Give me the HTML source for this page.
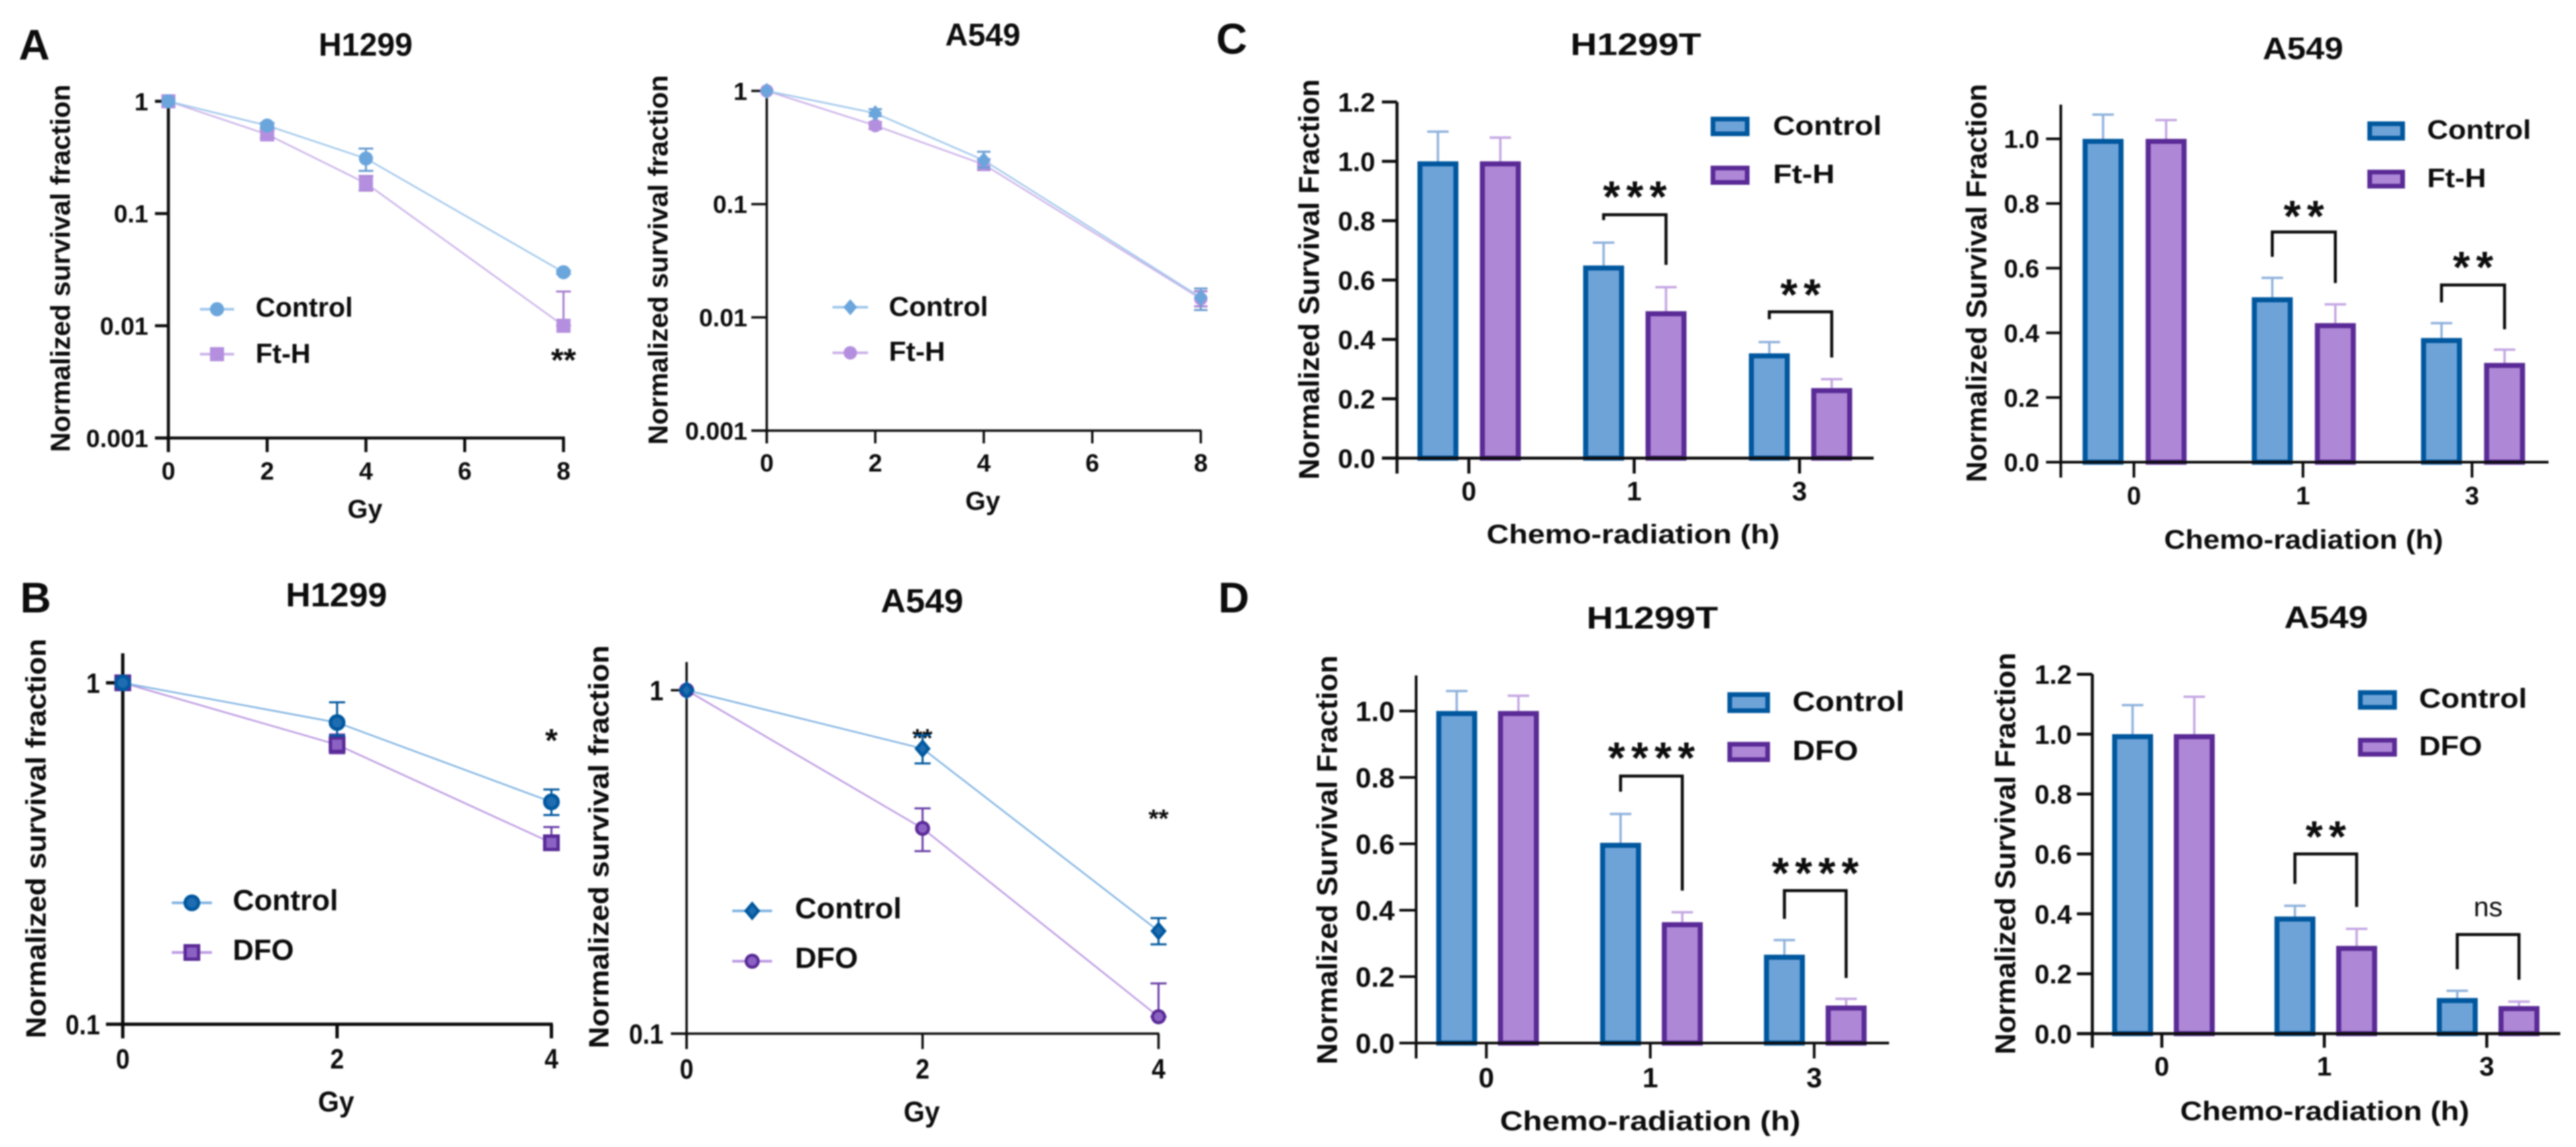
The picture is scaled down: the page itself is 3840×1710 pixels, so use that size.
<!DOCTYPE html>
<html lang="en">
<head>
<meta charset="utf-8">
<title>Normalized survival fraction panels</title>
<style>
html,body{margin:0;padding:0;background:#fff;width:3840px;height:1710px;overflow:hidden}
#figure{display:block;filter:blur(1.1px)}
.t{font-family:"Liberation Sans",Arial,sans-serif;font-weight:bold;fill:#0c0c0c}
.n{font-family:"Liberation Sans",Arial,sans-serif;font-weight:normal;fill:#0c0c0c}
</style>
</head>
<body>
<svg id="figure" xmlns="http://www.w3.org/2000/svg" width="3840" height="1710" viewBox="0 0 3840 1710">
<rect width="3840" height="1710" fill="#fff"/>

<text class="t" x="28" y="89" font-size="64">A</text>
<text class="t" x="30" y="913" font-size="64">B</text>
<text class="t" x="1813" y="80" font-size="64">C</text>
<text class="t" x="1816" y="913" font-size="64">D</text>

<g id="a1">
<text class="t" x="475" y="83" font-size="48" textLength="140" lengthAdjust="spacingAndGlyphs">H1299</text>
<text class="t" transform="translate(104 674) rotate(-90)" font-size="41" textLength="548" lengthAdjust="spacingAndGlyphs">Normalized survival fraction</text>
<text class="t" x="518" y="772" font-size="39" textLength="52" lengthAdjust="spacingAndGlyphs">Gy</text>
<text class="t" x="381" y="472" font-size="41" textLength="145" lengthAdjust="spacingAndGlyphs">Control</text>
<text class="t" x="381" y="541" font-size="41" textLength="82" lengthAdjust="spacingAndGlyphs">Ft-H</text>
<text class="t" x="840" y="553" font-size="48" text-anchor="middle">**</text>
</g>

<g id="a2">
<text class="t" x="1409" y="68" font-size="47" textLength="112" lengthAdjust="spacingAndGlyphs">A549</text>
<text class="t" transform="translate(995 663) rotate(-90)" font-size="41" textLength="551" lengthAdjust="spacingAndGlyphs">Normalized survival fraction</text>
<text class="t" x="1439" y="760" font-size="39" textLength="52" lengthAdjust="spacingAndGlyphs">Gy</text>
<text class="t" x="1325" y="471" font-size="41" textLength="148" lengthAdjust="spacingAndGlyphs">Control</text>
<text class="t" x="1325" y="538" font-size="41" textLength="84" lengthAdjust="spacingAndGlyphs">Ft-H</text>
</g>

<g id="b1">
<text class="t" x="426" y="904" font-size="50" textLength="151" lengthAdjust="spacingAndGlyphs">H1299</text>
<text class="t" transform="translate(68 1548) rotate(-90)" font-size="42" textLength="596" lengthAdjust="spacingAndGlyphs">Normalized survival fraction</text>
<text class="t" x="474" y="1657" font-size="43" textLength="54" lengthAdjust="spacingAndGlyphs">Gy</text>
<text class="t" x="347" y="1357" font-size="44" textLength="157" lengthAdjust="spacingAndGlyphs">Control</text>
<text class="t" x="347" y="1431" font-size="44" textLength="91" lengthAdjust="spacingAndGlyphs">DFO</text>
<text class="t" x="822" y="1120" font-size="48" text-anchor="middle">*</text>
</g>

<g id="b2">
<text class="t" x="1313" y="913" font-size="50" textLength="123" lengthAdjust="spacingAndGlyphs">A549</text>
<text class="t" transform="translate(907 1563) rotate(-90)" font-size="42" textLength="601" lengthAdjust="spacingAndGlyphs">Normalized survival fraction</text>
<text class="t" x="1347" y="1672" font-size="43" textLength="54" lengthAdjust="spacingAndGlyphs">Gy</text>
<text class="t" x="1185" y="1369" font-size="44" textLength="159" lengthAdjust="spacingAndGlyphs">Control</text>
<text class="t" x="1185" y="1443" font-size="44" textLength="94" lengthAdjust="spacingAndGlyphs">DFO</text>
<text class="t" x="1375" y="1113" font-size="38" text-anchor="middle" textLength="30" lengthAdjust="spacingAndGlyphs">**</text>
<text class="t" x="1727" y="1233" font-size="38" text-anchor="middle" textLength="30" lengthAdjust="spacingAndGlyphs">**</text>
</g>

<g id="c1">
<text class="t" x="2341" y="82" font-size="46" textLength="195" lengthAdjust="spacingAndGlyphs">H1299T</text>
<text class="t" transform="translate(1966 715) rotate(-90)" font-size="43" textLength="597" lengthAdjust="spacingAndGlyphs">Normalized Survival Fraction</text>
<text class="t" x="2216" y="810" font-size="40" textLength="437" lengthAdjust="spacingAndGlyphs">Chemo-radiation (h)</text>
<text class="t" x="2643" y="201" font-size="40" textLength="162" lengthAdjust="spacingAndGlyphs">Control</text>
<text class="t" x="2643" y="273" font-size="40" textLength="92" lengthAdjust="spacingAndGlyphs">Ft-H</text>
<rect x="2553.5" y="177.5" width="51" height="22" fill="#6ea3d8" stroke="#00579e" stroke-width="7"/>
<rect x="2553.5" y="250.5" width="51" height="21.5" fill="#ae88d6" stroke="#5a2a96" stroke-width="7"/>
</g>

<g id="c2">
<text class="t" x="3373" y="88" font-size="46" textLength="120" lengthAdjust="spacingAndGlyphs">A549</text>
<text class="t" transform="translate(2961 719) rotate(-90)" font-size="43" textLength="594" lengthAdjust="spacingAndGlyphs">Normalized Survival Fraction</text>
<text class="t" x="3226" y="818" font-size="40" textLength="416" lengthAdjust="spacingAndGlyphs">Chemo-radiation (h)</text>
<text class="t" x="3618" y="207" font-size="40" textLength="155" lengthAdjust="spacingAndGlyphs">Control</text>
<text class="t" x="3618" y="279" font-size="40" textLength="88" lengthAdjust="spacingAndGlyphs">Ft-H</text>
<rect x="3532.5" y="184.5" width="49" height="21.5" fill="#6ea3d8" stroke="#00579e" stroke-width="7"/>
<rect x="3532.5" y="256.5" width="49" height="21" fill="#ae88d6" stroke="#5a2a96" stroke-width="7"/>
</g>

<g id="d1">
<text class="t" x="2365" y="937" font-size="46" textLength="196" lengthAdjust="spacingAndGlyphs">H1299T</text>
<text class="t" transform="translate(1993 1587) rotate(-90)" font-size="43" textLength="610" lengthAdjust="spacingAndGlyphs">Normalized Survival Fraction</text>
<text class="t" x="2236" y="1685" font-size="41" textLength="448" lengthAdjust="spacingAndGlyphs">Chemo-radiation (h)</text>
<text class="t" x="2672" y="1060" font-size="42" textLength="167" lengthAdjust="spacingAndGlyphs">Control</text>
<text class="t" x="2672" y="1133" font-size="42" textLength="98" lengthAdjust="spacingAndGlyphs">DFO</text>
<rect x="2578.5" y="1035.5" width="56.5" height="24" fill="#6ea3d8" stroke="#00579e" stroke-width="7"/>
<rect x="2578.5" y="1109.5" width="56.5" height="23" fill="#ae88d6" stroke="#5a2a96" stroke-width="7"/>
</g>

<g id="d2">
<text class="t" x="3405" y="936" font-size="46" textLength="125" lengthAdjust="spacingAndGlyphs">A549</text>
<text class="t" transform="translate(3004 1572) rotate(-90)" font-size="43" textLength="599" lengthAdjust="spacingAndGlyphs">Normalized Survival Fraction</text>
<text class="t" x="3250" y="1670" font-size="40" textLength="431" lengthAdjust="spacingAndGlyphs">Chemo-radiation (h)</text>
<text class="t" x="3606" y="1055" font-size="41" textLength="161" lengthAdjust="spacingAndGlyphs">Control</text>
<text class="t" x="3606" y="1126" font-size="41" textLength="94" lengthAdjust="spacingAndGlyphs">DFO</text>
<rect x="3518.5" y="1032.5" width="51" height="22" fill="#6ea3d8" stroke="#00579e" stroke-width="7"/>
<rect x="3518.5" y="1103.5" width="51" height="21" fill="#ae88d6" stroke="#5a2a96" stroke-width="7"/>
</g>
</svg>

<script>
/* ---------- Panel A, H1299 ---------- */
const a1Doses = [0, 2, 4, 8];
const a1Control = [1, 0.608, 0.309, 0.03];
const a1ControlHi = [1, 0.64, 0.379, 0.031];
const a1ControlLo = [1, 0.58, 0.24, 0.029];
const a1FtH = [1, 0.507, 0.186, 0.01];
const a1FtHHi = [1, 0.55, 0.216, 0.0202];
const a1FtHLo = [1, 0.47, 0.16, 0.01];
const a1XTicks = [0, 2, 4, 6, 8];
const a1YTicks = [1, 0.1, 0.01, 0.001];
const a1YLabels = ['1', '0.1', '0.01', '0.001'];

/* ---------- Panel A, A549 ---------- */
const a2Doses = [0, 2, 4, 8];
const a2Control = [1, 0.635, 0.244, 0.015];
const a2ControlHi = [1, 0.69, 0.29, 0.018];
const a2ControlLo = [1, 0.6, 0.21, 0.0116];
const a2FtH = [1, 0.494, 0.224, 0.0146];
const a2FtHHi = [1, 0.53, 0.25, 0.017];
const a2FtHLo = [1, 0.46, 0.2, 0.0125];
const a2XTicks = [0, 2, 4, 6, 8];
const a2YTicks = [1, 0.1, 0.01, 0.001];
const a2YLabels = ['1', '0.1', '0.01', '0.001'];

/* ---------- Panel B, H1299 ---------- */
const b1Doses = [0, 2, 4];
const b1Control = [1, 0.765, 0.448];
const b1ControlHi = [1, 0.877, 0.487];
const b1ControlLo = [1, 0.7, 0.41];
const b1Dfo = [1, 0.659, 0.34];
const b1DfoHi = [1, 0.706, 0.378];
const b1DfoLo = [1, 0.622, 0.34];
const b1XTicks = [0, 2, 4];
const b1YTicks = [1, 0.1];
const b1YLabels = ['1', '0.1'];

/* ---------- Panel B, A549 ---------- */
const b2Doses = [0, 2, 4];
const b2Control = [1, 0.676, 0.199];
const b2ControlHi = [1, 0.74, 0.217];
const b2ControlLo = [1, 0.612, 0.182];
const b2Dfo = [1, 0.396, 0.112];
const b2DfoHi = [1, 0.453, 0.14];
const b2DfoLo = [1, 0.34, 0.112];
const b2XTicks = [0, 2, 4];
const b2YTicks = [1, 0.1];
const b2YLabels = ['1', '0.1'];

/* ---------- Panel C, H1299T ---------- */
const c1Categories = ['0', '1', '3'];
const c1Control = [1, 0.649, 0.353];
const c1ControlErr = [1.1, 0.726, 0.391];
const c1FtH = [1, 0.495, 0.236];
const c1FtHErr = [1.08, 0.576, 0.266];
const c1YTicks = [0, 0.2, 0.4, 0.6, 0.8, 1.0, 1.2];
const c1YLabels = ['0.0', '0.2', '0.4', '0.6', '0.8', '1.0', '1.2'];
const c1Sig = ['', '***', '**'];
const c1SigAt = [0, 0.902, 0.572];
const c1BracketLeft = [0, 0.802, 0.468];
const c1BracketTop = [0, 0.82, 0.493];
const c1BracketRight = [0, 0.651, 0.339];

/* ---------- Panel C, A549 ---------- */
const c2Categories = ['0', '1', '3'];
const c2Control = [1, 0.51, 0.384];
const c2ControlErr = [1.075, 0.57, 0.43];
const c2FtH = [1, 0.43, 0.307];
const c2FtHErr = [1.058, 0.488, 0.348];
const c2YTicks = [0, 0.2, 0.4, 0.6, 0.8, 1.0];
const c2YLabels = ['0.0', '0.2', '0.4', '0.6', '0.8', '1.0'];
const c2Sig = ['', '**', '**'];
const c2SigAt = [0, 0.78, 0.622];
const c2BracketLeft = [0, 0.635, 0.494];
const c2BracketTop = [0, 0.712, 0.548];
const c2BracketRight = [0, 0.554, 0.411];

/* ---------- Panel D, H1299T ---------- */
const d1Categories = ['0', '1', '3'];
const d1Control = [1, 0.603, 0.266];
const d1ControlErr = [1.06, 0.69, 0.31];
const d1Dfo = [1, 0.364, 0.113];
const d1DfoErr = [1.046, 0.394, 0.133];
const d1YTicks = [0, 0.2, 0.4, 0.6, 0.8, 1.0];
const d1YLabels = ['0.0', '0.2', '0.4', '0.6', '0.8', '1.0'];
const d1Sig = ['', '****', '****'];
const d1SigAt = [0, 0.878, 0.53];
const d1BracketLeft = [0, 0.757, 0.374];
const d1BracketTop = [0, 0.804, 0.459];
const d1BracketRight = [0, 0.459, 0.196];

/* ---------- Panel D, A549 ---------- */
const d2Categories = ['0', '1', '3'];
const d2Control = [1, 0.391, 0.119];
const d2ControlErr = [1.097, 0.427, 0.143];
const d2Dfo = [1, 0.293, 0.092];
const d2DfoErr = [1.125, 0.35, 0.107];
const d2YTicks = [0, 0.2, 0.4, 0.6, 0.8, 1.0, 1.2];
const d2YLabels = ['0.0', '0.2', '0.4', '0.6', '0.8', '1.0', '1.2'];
const d2Sig = ['', '**', 'ns'];
const d2SigAt = [0, 0.679, 0.423];
const d2BracketLeft = [0, 0.5, 0.215];
const d2BracketTop = [0, 0.6, 0.331];
const d2BracketRight = [0, 0.423, 0.18];

/* ---------- Shared helpers ---------- */
const SVG_NS = 'http://www.w3.org/2000/svg';
const INK = '#0c0c0c';

function mk(parent, tag, attrs) {
  const el = document.createElementNS(SVG_NS, tag);
  for (const k in attrs) el.setAttribute(k, attrs[k]);
  parent.appendChild(el);
  return el;
}
function linearScale(domain, range) {
  return v => range[0] + (v - domain[0]) * (range[1] - range[0]) / (domain[1] - domain[0]);
}
function logScale(domain, range) {
  const lo = Math.log10(domain[0]), hi = Math.log10(domain[1]);
  return v => range[0] + (Math.log10(v) - lo) * (range[1] - range[0]) / (hi - lo);
}
function marker(parent, kind, x, y, size, fill, stroke, sw) {
  const r = size / 2;
  let el;
  if (kind === 'circle') {
    el = mk(parent, 'circle', {cx: x, cy: y, r: r});
  } else if (kind === 'square') {
    el = mk(parent, 'rect', {x: x - r, y: y - r, width: size, height: size});
  } else {
    const R = r * 1.2;
    el = mk(parent, 'polygon', {points: [x, y - R, x + R * 0.85, y, x, y + R, x - R * 0.85, y].join(' ')});
  }
  el.setAttribute('fill', fill);
  el.setAttribute('stroke', stroke);
  el.setAttribute('stroke-width', sw);
  return el;
}
function drawAxes(g, c, xPos, yPos, xTicks, xLabels, yTicks, yLabels) {
  const base = c.yRange[0];
  const sx = c.labelSquash || 1;
  const yAxis = mk(g, 'line', {x1: c.axisX, x2: c.axisX, y1: c.axisTop, y2: c.xTickEnd, stroke: INK, 'stroke-width': c.axisW});
  
  
  const xAxis = mk(g, 'line', {x1: c.tickLeft, x2: c.axisRight, y1: base, y2: base, stroke: INK, 'stroke-width': c.axisW});
  
  
  yTicks.forEach((v, i) => {
    const py = yPos(v);
    const tick = mk(g, 'line', {x1: c.tickLeft, x2: c.axisX, y1: py, y2: py, stroke: INK, 'stroke-width': c.axisW});
    
    
    const label = mk(g, 'text', {class: 't', transform: 'translate(' + c.yLabelRight + ' ' + (py + c.fs * 0.36) + ') scale(' + sx + ' 1)', 'font-size': c.fs, 'text-anchor': 'end'});
    
    
    label.textContent = yLabels[i];
  });
  xTicks.forEach((v, i) => {
    const px = xPos(v, i);
    const tick = mk(g, 'line', {x1: px, x2: px, y1: base, y2: c.xTickEnd, stroke: INK, 'stroke-width': c.axisW});
    
    
    const label = mk(g, 'text', {class: 't', transform: 'translate(' + px + ' ' + c.xLabelY + ') scale(' + sx + ' 1)', 'font-size': c.fs, 'text-anchor': 'middle'});
    
    
    label.textContent = xLabels[i];
  });
}

/* ---------- Survival curves ---------- */
function linePanel(c) {
  const g = document.getElementById(c.id);
  const xPos = linearScale(c.xDomain, c.xRange);
  const yPos = logScale(c.yDomain, c.yRange);
  drawAxes(g, c, v => xPos(v), yPos, c.xTicks, c.xTicks.map(String), c.yTicks, c.yLabels);
  c.series.forEach(s => {
    const line = mk(g, 'polyline', {
      points: s.x.map((v, i) => xPos(v) + ',' + yPos(s.y[i])).join(' '),
      fill: 'none', stroke: s.lineColor, 'stroke-width': c.lineW
    });
    
    
    s.x.forEach((v, i) => {
      const px = xPos(v);
      const top = yPos(s.hi[i]), bottom = yPos(s.lo[i]);
      if (Math.abs(bottom - top) > 1) {
        const err = mk(g, 'path', {
          d: 'M' + px + ' ' + top + 'V' + bottom +
             'M' + (px - c.cap) + ' ' + top + 'H' + (px + c.cap) +
             'M' + (px - c.cap) + ' ' + bottom + 'H' + (px + c.cap),
          fill: 'none', stroke: s.errColor, 'stroke-width': 3
        });
        
        
      }
    });
    s.x.forEach((v, i) => {
      const pt = marker(g, s.kind, xPos(v), yPos(s.y[i]), c.markerSize, s.fill, s.stroke, c.markerStroke);
      
      
    });
  });
  c.series.forEach(s => {
    const key = mk(g, 'line', {x1: c.legendX[0], x2: c.legendX[1], y1: s.legendY, y2: s.legendY, stroke: s.lineColor, 'stroke-width': c.lineW + 1.5});
    
    
    const keyPt = marker(g, s.kind, (c.legendX[0] + c.legendX[1]) / 2, s.legendY, c.markerSize, s.fill, s.stroke, c.markerStroke);
    
    
  });
}

/* ---------- Bar charts ---------- */
function barPanel(c) {
  const g = document.getElementById(c.id);
  const tickPos = linearScale([0, c.categories.length - 1], c.tickRange);
  const groupPos = linearScale([0, c.categories.length - 1], c.groupRange);
  const yPos = linearScale(c.yDomain, c.yRange);
  const base = c.yRange[0];
  const sw = 7.5, W = 61;
  const drawBar = (name, cx, v, err, fill, stroke, errColor) => {
    const errTop = yPos(err), barTop = yPos(v);
    const whisker = mk(g, 'path', {
      d: 'M' + cx + ' ' + barTop + 'V' + errTop + 'M' + (cx - 16) + ' ' + errTop + 'H' + (cx + 16),
      fill: 'none', stroke: errColor, 'stroke-width': 3.5
    });
    
    
    const bar = mk(g, 'rect', {
      x: cx - W / 2 + sw / 2, y: barTop + sw / 2, width: W - sw, height: base - barTop - sw / 2,
      fill: fill, stroke: stroke, 'stroke-width': sw
    });
    
    
  };
  c.categories.forEach((cat, i) => {
    const mid = groupPos(i);
    drawBar(c.nameA, mid - c.offset, c.a[i], c.aErr[i], '#6ea3d8', '#00579e', '#8fb2dc');
    drawBar(c.nameB, mid + c.offset, c.b[i], c.bErr[i], '#ae88d6', '#5a2a96', '#c4a6e2');
  });
  drawAxes(g, c, (v, i) => tickPos(i), yPos, c.categories, c.categories, c.yTicks, c.yLabels);
  c.sig.forEach((label, i) => {
    if (!label) return;
    const mid = groupPos(i);
    const lx = mid - c.offset, rx = mid + c.offset;
    const bracket = mk(g, 'path', {
      d: 'M' + lx + ' ' + yPos(c.bLeft[i]) + 'V' + yPos(c.bTop[i]) + 'H' + rx + 'V' + yPos(c.bRight[i]),
      fill: 'none', stroke: INK, 'stroke-width': 4.5
    });
    
    
    const isStars = label.indexOf('*') === 0;
    const mark = mk(g, 'text', {
      class: isStars ? 't' : 'n',
      x: mid + (isStars ? 4.5 : 0),
      y: yPos(c.sigAt[i]) + (isStars ? 32 : 14),
      'font-size': isStars ? 66 : 41,
      'text-anchor': 'middle',
      'letter-spacing': isStars ? 9 : 0
    });
    
    
    mark.textContent = label;
  });
}

/* ---------- Series styles ---------- */
const lightBlue = {lineColor: '#a3c9ec', errColor: '#6a9dd0', fill: '#6aa5dc', stroke: 'none'};
const lightPurple = {lineColor: '#cdb4ea', errColor: '#a77fd0', fill: '#b48fdf', stroke: 'none'};
const darkBlue = {lineColor: '#83b5e3', errColor: '#00589f', fill: '#1f6cb0', stroke: '#00589f'};
const darkPurple = {lineColor: '#bd9be3', errColor: '#6a3fa8', fill: '#8b62c4', stroke: '#5a2a96'};

linePanel({
  id: 'a1', xDomain: [0, 8], xRange: [251, 840], yDomain: [0.001, 1], yRange: [653, 151],
  axisX: 251, axisTop: 151, tickLeft: 231, axisRight: 842, xTickEnd: 674, axisW: 4.5,
  yLabelRight: 221, xLabelY: 715, fs: 37, lineW: 2.5, cap: 11, markerSize: 21, markerStroke: 0,
  xTicks: a1XTicks, yTicks: a1YTicks, yLabels: a1YLabels, legendX: [298, 349],
  series: [
    Object.assign({name: 'ft-h', kind: 'square', x: a1Doses, y: a1FtH, hi: a1FtHHi, lo: a1FtHLo, legendY: 528}, lightPurple),
    Object.assign({name: 'control', kind: 'circle', x: a1Doses, y: a1Control, hi: a1ControlHi, lo: a1ControlLo, legendY: 461}, lightBlue)
  ]
});
linePanel({
  id: 'a2', xDomain: [0, 8], xRange: [1143, 1790], yDomain: [0.001, 1], yRange: [642, 135.5],
  axisX: 1143, axisTop: 135.5, tickLeft: 1120, axisRight: 1791, xTickEnd: 661, axisW: 3.5,
  yLabelRight: 1114, xLabelY: 703, fs: 37, lineW: 2.5, cap: 10, markerSize: 20, markerStroke: 0,
  xTicks: a2XTicks, yTicks: a2YTicks, yLabels: a2YLabels, legendX: [1241, 1294],
  series: [
    Object.assign({name: 'ft-h', kind: 'circle', x: a2Doses, y: a2FtH, hi: a2FtHHi, lo: a2FtHLo, legendY: 526}, lightPurple),
    Object.assign({name: 'control', kind: 'diamond', x: a2Doses, y: a2Control, hi: a2ControlHi, lo: a2ControlLo, legendY: 458}, lightBlue)
  ]
});
linePanel({
  id: 'b1', xDomain: [0, 4], xRange: [183, 822], yDomain: [0.1, 1], yRange: [1527, 1018],
  axisX: 183, axisTop: 974, tickLeft: 158, axisRight: 824, xTickEnd: 1548, axisW: 5,
  yLabelRight: 149, xLabelY: 1593, fs: 42, labelSquash: 0.88, lineW: 2.5, cap: 12, markerSize: 20, markerStroke: 5,
  xTicks: b1XTicks, yTicks: b1YTicks, yLabels: b1YLabels, legendX: [256, 316],
  series: [
    Object.assign({name: 'dfo', kind: 'square', x: b1Doses, y: b1Dfo, hi: b1DfoHi, lo: b1DfoLo, legendY: 1420}, darkPurple),
    Object.assign({name: 'control', kind: 'circle', x: b1Doses, y: b1Control, hi: b1ControlHi, lo: b1ControlLo, legendY: 1346}, darkBlue)
  ]
});
linePanel({
  id: 'b2', xDomain: [0, 4], xRange: [1023.5, 1727], yDomain: [0.1, 1], yRange: [1541, 1029],
  axisX: 1023.5, axisTop: 987, tickLeft: 1000, axisRight: 1728, xTickEnd: 1564, axisW: 3.5,
  yLabelRight: 989, xLabelY: 1608, fs: 42, labelSquash: 0.88, lineW: 2.5, cap: 12, markerSize: 18, markerStroke: 4.5,
  xTicks: b2XTicks, yTicks: b2YTicks, yLabels: b2YLabels, legendX: [1091.5, 1151],
  series: [
    Object.assign({name: 'dfo', kind: 'circle', x: b2Doses, y: b2Dfo, hi: b2DfoHi, lo: b2DfoLo, legendY: 1433}, darkPurple),
    Object.assign({name: 'control', kind: 'diamond', x: b2Doses, y: b2Control, hi: b2ControlHi, lo: b2ControlLo, legendY: 1358}, darkBlue)
  ]
});

barPanel({
  id: 'c1', categories: c1Categories, tickRange: [2189.6, 2682.5], groupRange: [2190, 2684], offset: 46.5,
  yDomain: [0, 1], yRange: [683, 240.5], axisX: 2082.5, axisTop: 152, tickLeft: 2060, axisRight: 2793,
  xTickEnd: 706, axisW: 4.5, yLabelRight: 2050, xLabelY: 746, fs: 40,
  nameA: 'control', nameB: 'ft-h', a: c1Control, aErr: c1ControlErr, b: c1FtH, bErr: c1FtHErr,
  yTicks: c1YTicks, yLabels: c1YLabels, sig: c1Sig, sigAt: c1SigAt,
  bLeft: c1BracketLeft, bTop: c1BracketTop, bRight: c1BracketRight
});
barPanel({
  id: 'c2', categories: c2Categories, tickRange: [3181, 3685], groupRange: [3182, 3686.5], offset: 47,
  yDomain: [0, 1], yRange: [689, 207], axisX: 3072, axisTop: 156, tickLeft: 3050, axisRight: 3799,
  xTickEnd: 712, axisW: 4, yLabelRight: 3040, xLabelY: 752, fs: 38,
  nameA: 'control', nameB: 'ft-h', a: c2Control, aErr: c2ControlErr, b: c2FtH, bErr: c2FtHErr,
  yTicks: c2YTicks, yLabels: c2YLabels, sig: c2Sig, sigAt: c2SigAt,
  bLeft: c2BracketLeft, bTop: c2BracketTop, bRight: c2BracketRight
});
barPanel({
  id: 'd1', categories: d1Categories, tickRange: [2215.7, 2704.4], groupRange: [2217.5, 2706], offset: 46,
  yDomain: [0, 1], yRange: [1555, 1060], axisX: 2111, axisTop: 1007, tickLeft: 2086, axisRight: 2816,
  xTickEnd: 1578, axisW: 4, yLabelRight: 2079, xLabelY: 1621, fs: 42,
  nameA: 'control', nameB: 'dfo', a: d1Control, aErr: d1ControlErr, b: d1Dfo, bErr: d1DfoErr,
  yTicks: d1YTicks, yLabels: d1YLabels, sig: d1Sig, sigAt: d1SigAt,
  bLeft: d1BracketLeft, bTop: d1BracketTop, bRight: d1BracketRight
});
barPanel({
  id: 'd2', categories: d2Categories, tickRange: [3222.6, 3707], groupRange: [3225, 3709], offset: 46,
  yDomain: [0, 1], yRange: [1541, 1094.5], axisX: 3119, axisTop: 1005, tickLeft: 3096, axisRight: 3816.5,
  xTickEnd: 1562, axisW: 4.5, yLabelRight: 3088.5, xLabelY: 1603.6, fs: 40,
  nameA: 'control', nameB: 'dfo', a: d2Control, aErr: d2ControlErr, b: d2Dfo, bErr: d2DfoErr,
  yTicks: d2YTicks, yLabels: d2YLabels, sig: d2Sig, sigAt: d2SigAt,
  bLeft: d2BracketLeft, bTop: d2BracketTop, bRight: d2BracketRight
});
</script>
</body>
</html>
